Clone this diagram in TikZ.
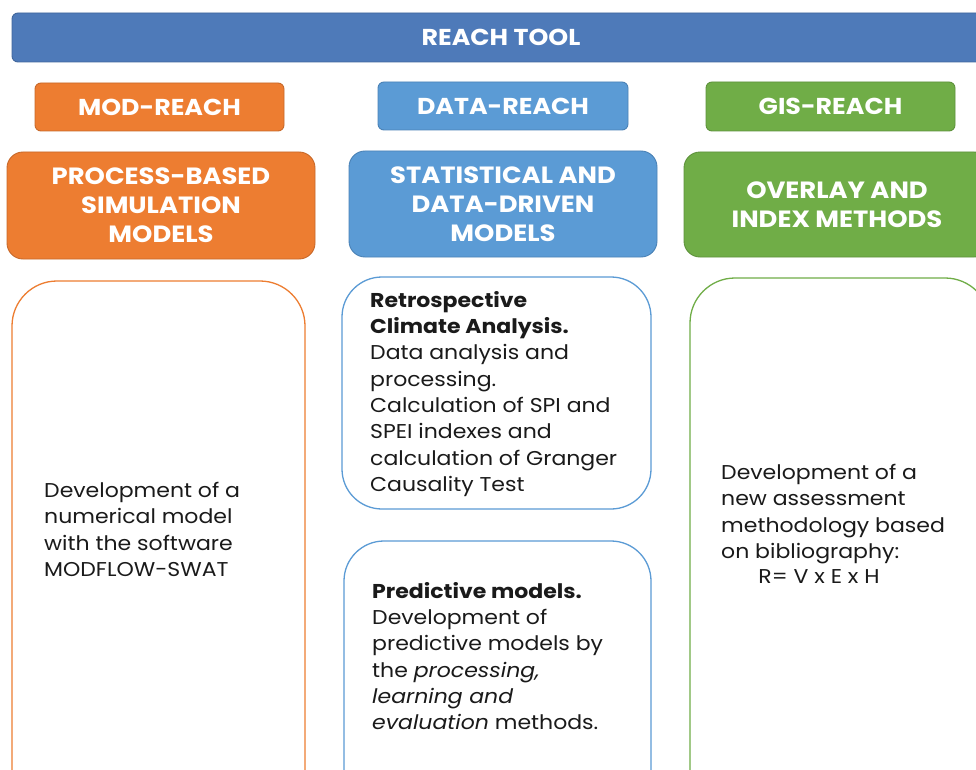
\documentclass[tikz,border=0pt]{standalone}
\usepackage{fontspec}
\setmainfont[FakeStretch=1.1]{Poppins}
\definecolor{toolblue}{HTML}{4E7AB9}
\definecolor{toolblueline}{HTML}{41669C}
\definecolor{modorange}{HTML}{ED7D31}
\definecolor{modline}{HTML}{C8692A}
\definecolor{datablue}{HTML}{5B9BD5}
\definecolor{dataline}{HTML}{4A82B6}
\definecolor{gisgreen}{HTML}{70AD47}
\definecolor{gisline}{HTML}{5E923C}
\definecolor{bodytext}{HTML}{1A1A1A}
\tikzset{
  filledbox/.style={rounded corners=#1, inner sep=0pt, line width=0.9pt, text=white,
    font=\fontsize{23.5}{29.2}\selectfont\bfseries, align=center},
  tag/.style={filledbox=6pt, font=\fontsize{23}{26}\selectfont\bfseries},
  panel/.style={filledbox=16pt},
  outline/.style={rounded corners=#1, inner sep=0pt, line width=1.3pt, fill=white},
  bodytxt/.style={anchor=north west, align=left, inner sep=0pt, text=bodytext,
    font=\fontsize{20}{26.3}\selectfont}
}
\begin{document}
\begin{tikzpicture}[x=1pt,y=-1pt]
\useasboundingbox (0,0) rectangle (976,770);
\clip (0,0) rectangle (976,770);
\fill[white] (0,0) rectangle (976,770);

% top banner
\node[tag, fill=toolblue, draw=toolblueline, minimum width=978pt, minimum height=49pt]
  (tool) at (501,37.5) {REACH TOOL};

% module tags
\node[tag, fill=modorange, draw=modline, minimum width=249pt, minimum height=48pt]
  (mod) at (159.5,107) {MOD-REACH};
\node[tag, fill=datablue, draw=dataline, minimum width=250pt, minimum height=48pt]
  (data) at (503,106) {DATA-REACH};
\node[tag, fill=gisgreen, draw=gisline, minimum width=249pt, minimum height=49pt]
  (gis) at (830.5,106.5) {GIS-REACH};

% method panels
\node[panel, fill=modorange, draw=modline, minimum width=308pt, minimum height=107pt]
  (process) at (161,205.5) {PROCESS-BASED\\SIMULATION\\MODELS};
\node[panel, fill=datablue, draw=dataline, minimum width=308pt, minimum height=106pt]
  (stat) at (503,204) {STATISTICAL AND\\DATA-DRIVEN\\MODELS};
\node[panel, fill=gisgreen, draw=gisline, minimum width=306pt, minimum height=105pt]
  (overlay) at (837,204.5) {OVERLAY AND\\INDEX METHODS};

% description frames
\node[outline=45pt, draw=modorange, minimum width=293pt, minimum height=560pt]
  (modframe) at (158.5,561) {};
\node[outline=40pt, draw=datablue, minimum width=309pt, minimum height=232pt]
  (retroframe) at (496.5,393) {};
\node[outline=40pt, draw=datablue, minimum width=307pt, minimum height=300pt]
  (predframe) at (497.5,691) {};
\node[outline=45pt, draw=gisgreen, minimum width=300pt, minimum height=560pt]
  (gisframe) at (840,558) {};

% descriptions
\node[bodytxt] (modtext) at (44,482)
  {Development of a\\numerical model\\with the software\\MODFLOW-SWAT};
\node[bodytxt] (retrotext) at (370,291)
  {\textbf{Retrospective}\\\textbf{Climate Analysis.}\\Data analysis and\\processing.\\
   Calculation of SPI and\\SPEI indexes and\\calculation of Granger\\Causality Test};
\node[bodytxt] (predtext) at (372,582)
  {\textbf{Predictive models.}\\Development of\\predictive models by\\the \textit{processing,}\\
   \textit{learning and}\\\textit{evaluation} methods.};
\node[bodytxt] (gistext) at (721,464)
  {Development of a\\new assessment\\methodology based\\on bibliography:};
\node[bodytxt, anchor=north] (formula) at (819,569) {R= V x E x H};
\end{tikzpicture}
\end{document}
